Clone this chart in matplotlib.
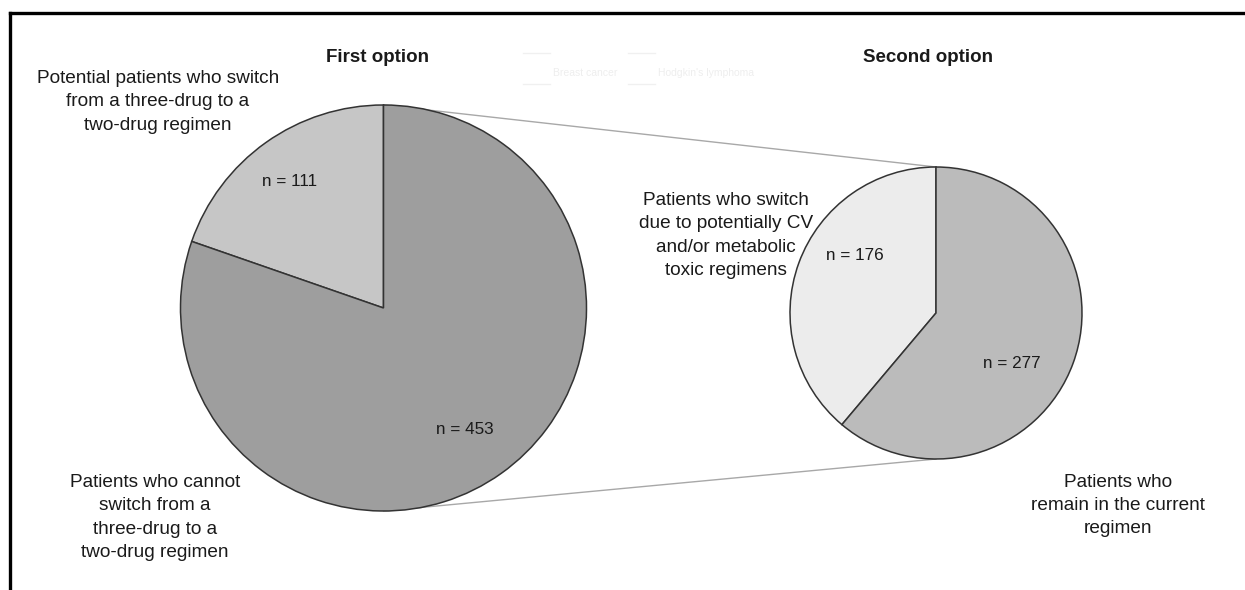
import matplotlib
matplotlib.use("Agg")
import matplotlib.pyplot as plt

plt.rcParams['font.family'] = ['Liberation Sans', 'DejaVu Sans']

# Data
first_values = [111, 453]
first_colors = ['#c6c6c6', '#9e9e9e']
first_counts = ["n = 111", "n = 453"]
second_values = [176, 277]
second_colors = ['#ececec', '#bbbbbb']
second_counts = ["n = 176", "n = 277"]
titles = ["First option", "Second option"]
legend_labels = ["Breast cancer", "Hodgkin's lymphoma"]

W, H = 1245, 590
fig = plt.figure(figsize=(W / 100, H / 100), dpi=100)
ax = fig.add_axes([0, 0, 1, 1])


def Y(y):
    return H - y


c1, r1 = (383.5, Y(308)), 203
c2, r2 = (936, Y(313)), 146

# connector lines between the two pies
ax.plot([c1[0], c2[0]], [c1[1] + r1, c2[1] + r2], color='#a8a8a8', lw=1.0, zorder=1)
ax.plot([c1[0], c2[0]], [c1[1] - r1, c2[1] - r2], color='#a8a8a8', lw=1.0, zorder=1)

wp = dict(edgecolor='#333333', linewidth=1.1)
ax.pie(first_values, colors=first_colors, startangle=90, counterclock=True,
       center=c1, radius=r1, wedgeprops=wp, frame=True)
ax.pie(second_values, colors=second_colors, startangle=90, counterclock=True,
       center=c2, radius=r2, wedgeprops=wp, frame=True)

ax.set_xlim(0, W)
ax.set_ylim(0, H)
ax.set_aspect('auto')
ax.axis('off')

# outer frame (top and left edges)
ax.plot([10, W], [Y(13), Y(13)], color='black', lw=2.4, solid_capstyle='projecting')
ax.plot([10, 10], [Y(13), 0], color='black', lw=2.4, solid_capstyle='projecting')

fs = 13.7
ls = 1.47
tc = '#1a1a1a'
ax.text(377, Y(57), titles[0], ha='center', va='center', fontsize=13.5, fontweight='bold', color=tc)
ax.text(928, Y(57), titles[1], ha='center', va='center', fontsize=13.5, fontweight='bold', color=tc)

# faint legend
for x0, lab in zip([523, 628], legend_labels):
    ax.plot([x0, x0 + 27], [Y(53), Y(53)], color='#f0f0f0', lw=1)
    ax.plot([x0, x0 + 27], [Y(84), Y(84)], color='#f0f0f0', lw=1)
    ax.text(x0 + 30, Y(73), lab, ha='left', va='center', fontsize=7.5, color='#eeeeee')

ax.text(158, Y(102), "Potential patients who switch\nfrom a three-drug to a\ntwo-drug regimen",
        ha='center', va='center', fontsize=fs, linespacing=ls, color=tc)
ax.text(155, Y(517.5), "Patients who cannot\nswitch from a\nthree-drug to a\ntwo-drug regimen",
        ha='center', va='center', fontsize=fs, linespacing=ls, color=tc)
ax.text(726, Y(235.5), "Patients who switch\ndue to potentially CV\nand/or metabolic\ntoxic regimens",
        ha='center', va='center', fontsize=fs, linespacing=ls, color=tc)
ax.text(1118, Y(505.5), "Patients who\nremain in the current\nregimen",
        ha='center', va='center', fontsize=fs, linespacing=ls, color=tc)

fs2 = 12.3
ax.text(289.5, Y(182), first_counts[0], ha='center', va='center', fontsize=fs2, color=tc)
ax.text(464.5, Y(429), first_counts[1], ha='center', va='center', fontsize=fs2, color=tc)
ax.text(855, Y(256), second_counts[0], ha='center', va='center', fontsize=fs2, color=tc)
ax.text(1012, Y(363), second_counts[1], ha='center', va='center', fontsize=fs2, color=tc)

fig.savefig("out.png", dpi=100, facecolor='white')
